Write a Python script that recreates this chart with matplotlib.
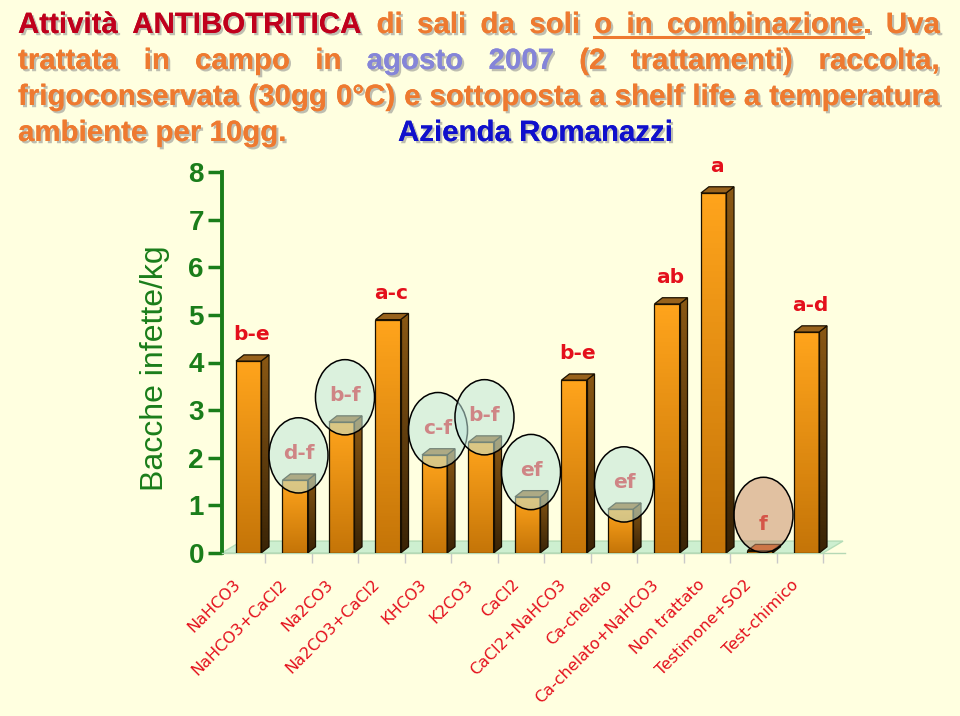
import numpy as np
import matplotlib
matplotlib.use("Agg")
import matplotlib.pyplot as plt
from matplotlib.patches import Polygon, Ellipse
from matplotlib.colors import LinearSegmentedColormap
import matplotlib.patheffects as pe

# -----------------------------
# Data
# -----------------------------
categories = ["NaHCO3", "NaHCO3+CaCl2", "Na2CO3", "Na2CO3+CaCl2", "KHCO3", "K2CO3",
              "CaCl2", "CaCl2+NaHCO3", "Ca-chelato", "Ca-chelato+NaHCO3",
              "Non trattato", "Testimone+SO2", "Test-chimico"]
values = [4.03, 1.53, 2.75, 4.90, 2.06, 2.33, 1.18, 3.63, 0.92, 5.23, 7.56, 0.05, 4.64]
letters = ["b-e", "d-f", "b-f", "a-c", "c-f", "b-f", "ef", "b-e", "ef", "ab", "a", "f", "a-d"]
# which groups are circled in the slide: None, 'low' (light cyan) or 'min' (brown)
circled = [None, "low", "low", None, "low", "low", "low", None, "low", None, None, "min", None]
yticks = [0, 1, 2, 3, 4, 5, 6, 7, 8]
ylabel = "Bacche infette/kg"

# -----------------------------
# Colours
# -----------------------------
BG = "#FFFFE0"
GREEN = "#1A7D1A"
DRED = "#C0001C"
ORANGE = "#EE7A30"
LAV = "#8585D8"
BLUE = "#1010CC"
LRED = "#E4101C"

W, H = 960, 716
fig = plt.figure(figsize=(W / 100, H / 100), dpi=100, facecolor=BG)

# -----------------------------
# Justified title block
# -----------------------------
title_lines = [
    [[("Attività", DRED, False)], [("ANTIBOTRITICA", DRED, False)], [("di", ORANGE, False)],
     [("sali", ORANGE, False)], [("da", ORANGE, False)], [("soli", ORANGE, False)],
     [("o", ORANGE, True)], [("in", ORANGE, True)],
     [("combinazione", ORANGE, True), (".", ORANGE, False)], [("Uva", ORANGE, False)]],
    [[("trattata", ORANGE, False)], [("in", ORANGE, False)], [("campo", ORANGE, False)],
     [("in", ORANGE, False)], [("agosto", LAV, False)], [("2007", LAV, False)],
     [("(2", ORANGE, False)], [("trattamenti)", ORANGE, False)], [("raccolta,", ORANGE, False)]],
    [[(w, ORANGE, False)] for w in
     "frigoconservata (30gg 0°C) e sottoposta a shelf life a temperatura".split()],
]
baselines = [33, 69, 105, 141]
x_left, x_right = 18, 940

shadow = [pe.withSimplePatchShadow(offset=(1.6, -1.6), shadow_rgbFace="#8a8a8a", alpha=0.55),
          pe.Normal()]
tfont = dict(family="Liberation Sans", weight="bold")

renderer = fig.canvas.get_renderer()


def measure(s, size):
    t = fig.text(0, 0, s, fontsize=size, **tfont)
    w = t.get_window_extent(renderer).width
    t.remove()
    return w


# fit font size so the longest line fits with normal spacing
probe = 20
longest = "frigoconservata (30gg 0°C) e sottoposta a shelf life a temperatura"
fs = probe * (x_right - x_left) / measure(longest, probe) * 0.99

for line, base in zip(title_lines, baselines):
    widths = [[measure(r[0], fs) for r in word] for word in line]
    total = sum(sum(w) for w in widths)
    gap = (x_right - x_left - total) / (len(line) - 1)
    x = x_left
    ul = []
    for word, ws in zip(line, widths):
        for (s, c, u), w in zip(word, ws):
            fig.text(x / W, 1 - base / H, s, fontsize=fs, color=c, va="baseline",
                     path_effects=shadow, **tfont)
            if u:
                ul.append((x, x + w))
            x += w
        x += gap
    if ul:
        y = 1 - (base + 4) / H
        fig.add_artist(plt.Line2D([ul[0][0] / W, ul[-1][1] / W], [y, y],
                                  color=ORANGE, lw=2.2, transform=fig.transFigure))

fig.text(x_left / W, 1 - baselines[3] / H, "ambiente per 10gg.", fontsize=fs, color=ORANGE,
         va="baseline", path_effects=shadow, **tfont)
fig.text(398 / W, 1 - baselines[3] / H, "Azienda Romanazzi", fontsize=fs, color=BLUE,
         va="baseline", path_effects=shadow, **tfont)

# -----------------------------
# Bar chart axes
# -----------------------------
ax = fig.add_axes([222 / W, 163 / H, 623 / W, 381 / H])
ax.set_facecolor("none")
n = len(categories)
xpos = np.arange(n)

front_cmap = LinearSegmentedColormap.from_list("front", ["#C57508", "#FFA41C"])
side_cmap = LinearSegmentedColormap.from_list("side", ["#3A2406", "#8A5814"])
grad = np.linspace(0, 1, 64).reshape(-1, 1)

bw, ddx, ddy = 0.54, 0.17, 0.13

# floor
fx0, fx1, fdx, fdy = -0.43, 12.5, 0.43, 0.25
ax.add_patch(Polygon([(fx0, 0), (fx1, 0), (fx1 + fdx, fdy), (fx0 + fdx, fdy)],
                     closed=True, facecolor="#CDEFD0", edgecolor="#B5DDB8", lw=1,
                     zorder=1, clip_on=False))

for i, v in zip(xpos, values):
    x0 = i - 0.124
    front = Polygon([(x0, 0), (x0 + bw, 0), (x0 + bw, v), (x0, v)], closed=True,
                    facecolor="none", edgecolor="#1a1000", lw=0.9, zorder=4)
    ax.add_patch(front)
    im = ax.imshow(grad, cmap=front_cmap, extent=[x0, x0 + bw, 0, max(v, 0.01)],
                   origin="lower", aspect="auto", zorder=3)
    im.set_clip_path(front)
    side = Polygon([(x0 + bw, 0), (x0 + bw + ddx, ddy), (x0 + bw + ddx, v + ddy), (x0 + bw, v)],
                   closed=True, facecolor="none", edgecolor="#1a1000", lw=0.9, zorder=4)
    ax.add_patch(side)
    im2 = ax.imshow(grad, cmap=side_cmap, extent=[x0 + bw, x0 + bw + ddx, 0, v + ddy],
                    origin="lower", aspect="auto", zorder=3)
    im2.set_clip_path(side)
    top_col = "#D45A18" if v < 0.2 else "#98621C"
    ax.add_patch(Polygon([(x0, v), (x0 + bw, v), (x0 + bw + ddx, v + ddy), (x0 + ddx, v + ddy)],
                         closed=True, facecolor=top_col, edgecolor="#1a1000", lw=0.9, zorder=4))

# significance letters and circles
for i, v, lab, c in zip(xpos, values, letters, circled):
    ax.text(i + 0.22, v + 0.55, lab, ha="center", va="center", fontsize=14.5,
            fontweight="bold", color=LRED, family="DejaVu Sans", zorder=5, clip_on=False)
    if c is None:
        continue
    cy = v + 0.52 if c == "low" else v + 0.75
    fc = "#BFE6DC" if c == "low" else "#C98E6E"
    ax.add_patch(Ellipse((i + 0.22, cy), 1.27, 1.58, facecolor=fc,
                         alpha=0.55, edgecolor="none", zorder=6))
    ax.add_patch(Ellipse((i + 0.22, cy), 1.27, 1.58, facecolor="none",
                         edgecolor="black", lw=1.1, zorder=6))

# category labels
for i, lab in zip(xpos, categories):
    ax.text(i - 0.2, -0.5, lab, rotation=45, rotation_mode="anchor", ha="right", va="top",
            fontsize=11.5, color=LRED, family="DejaVu Sans", clip_on=False)

ax.set_yticks(yticks)
ax.set_yticklabels([str(t) for t in yticks], family="Liberation Sans", fontsize=20,
                   fontweight="bold", color=GREEN)
ax.tick_params(axis="y", length=10, width=2.5, color=GREEN, pad=3)
ax.set_xticks(np.arange(0.5, n, 1))
ax.set_xticklabels([])
ax.tick_params(axis="x", length=7, width=1, color="#C9C9C9")
ax.set_xlim(-0.425, 12.973)
ax.set_ylim(0, 8)
for s in ["top", "right"]:
    ax.spines[s].set_visible(False)
ax.spines["left"].set_color(GREEN)
ax.spines["left"].set_linewidth(2.8)
ax.spines["bottom"].set_color("#B5D8B5")
ax.spines["bottom"].set_linewidth(1)

fig.text(155 / W, 1 - 368 / H, ylabel, rotation=90, ha="center", va="center",
         fontsize=23, color=GREEN, family="Liberation Sans")

fig.savefig("out.png", dpi=100, facecolor=BG)
